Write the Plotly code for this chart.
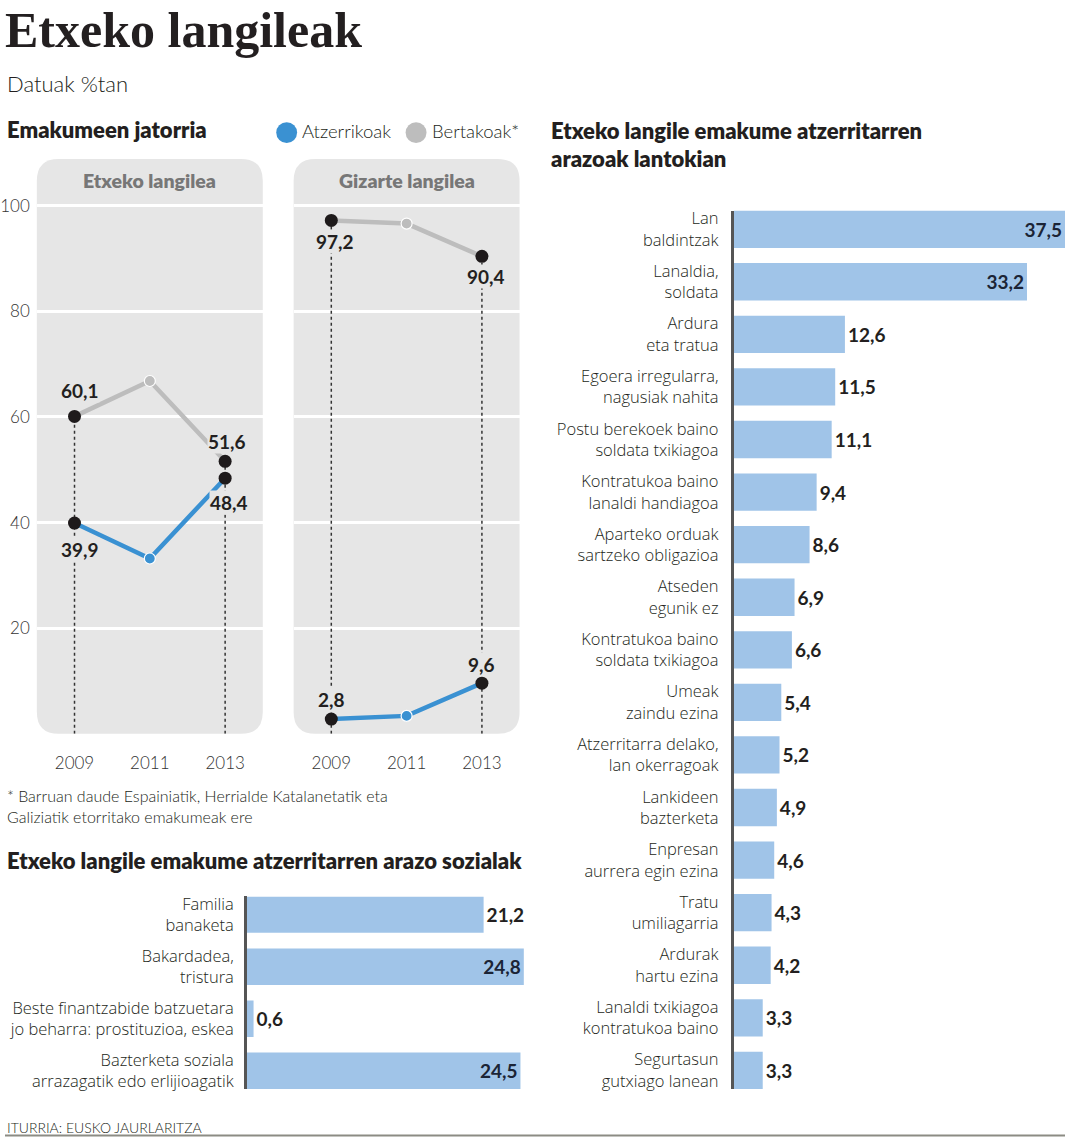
import plotly.graph_objects as go

# ---------------- data ----------------
years = [2009, 2011, 2013]
year_labels = ["2009", "2011", "2013"]
etxeko_atzerrikoak = [39.9, 33.2, 48.4]
etxeko_bertakoak = [60.1, 66.8, 51.6]
gizarte_atzerrikoak = [2.8, 3.4, 9.6]
gizarte_bertakoak = [97.2, 96.6, 90.4]
y_ticks = [20, 40, 60, 80, 100]
series_names = ["Atzerrikoak", "Bertakoak*"]
panel_titles = ["Etxeko langilea", "Gizarte langilea"]

sozial_cats = [
    "Familia<br>banaketa",
    "Bakardadea,<br>tristura",
    "Beste finantzabide batzuetara<br>jo beharra: prostituzioa, eskea",
    "Bazterketa soziala<br>arrazagatik edo erlijioagatik",
]
sozial_vals = [21.2, 24.8, 0.6, 24.5]

lantoki_cats = [
    "Lan<br>baldintzak",
    "Lanaldia,<br>soldata",
    "Ardura<br>eta tratua",
    "Egoera irregularra,<br>nagusiak nahita",
    "Postu berekoek baino<br>soldata txikiagoa",
    "Kontratukoa baino<br>lanaldi handiagoa",
    "Aparteko orduak<br>sartzeko obligazioa",
    "Atseden<br>egunik ez",
    "Kontratukoa baino<br>soldata txikiagoa",
    "Umeak<br>zaindu ezina",
    "Atzerritarra delako,<br>lan okerragoak",
    "Lankideen<br>bazterketa",
    "Enpresan<br>aurrera egin ezina",
    "Tratu<br>umiliagarria",
    "Ardurak<br>hartu ezina",
    "Lanaldi txikiagoa<br>kontratukoa baino",
    "Segurtasun<br>gutxiago lanean",
]
lantoki_vals = [37.5, 33.2, 12.6, 11.5, 11.1, 9.4, 8.6, 6.9, 6.6, 5.4, 5.2, 4.9, 4.6, 4.3, 4.2, 3.3, 3.3]

# ---------------- style ----------------
W, H = 1065, 1140
SANS = "Lato, 'Open Sans', sans-serif"
LABEL_FONT = "'Open Sans', Lato, sans-serif"
SERIF = "'Liberation Serif', 'DejaVu Serif', serif"
DARK = "#1e1a1b"
NAVY = "#1b2436"
BLUE = "#3a91d2"
GREY = "#bdbdbd"
PANEL = "#e6e6e6"
BAR = "#a0c4e8"
AXIS = "#555555"
DOT_Y = -2.0


def fx(px):
    return px / W


def fy(py):
    return 1 - py / H


def fmt(v):
    return f"{v:.1f}".replace(".", ",")


fig = go.Figure()

# ---------------- line panels ----------------
panels = [
    dict(x="x", y="y", atz=etxeko_atzerrikoak, ber=etxeko_bertakoak, px=(32, 259),
         offs={"ber": [(5, 26), (2, 20)], "atz": [(5, -26), (4, -24)]}),
    dict(x="x2", y="y2", atz=gizarte_atzerrikoak, ber=gizarte_bertakoak, px=(290, 517),
         offs={"ber": [(4, -21), (4, -20)], "atz": [(0, 20), (0, 18.5)]}),
]

annotations = []
shapes = []

PANEL_TOP, PANEL_BOT, RAD = 155, 734, 22

for pi, p in enumerate(panels):
    # rounded grey background
    x0, x1 = p["px"]
    y0, y1 = PANEL_TOP, PANEL_BOT
    r = RAD
    path = (
        f"M {fx(x0 + r)},{fy(y0)} L {fx(x1 - r)},{fy(y0)} Q {fx(x1)},{fy(y0)} {fx(x1)},{fy(y0 + r)} "
        f"L {fx(x1)},{fy(y1 - r)} Q {fx(x1)},{fy(y1)} {fx(x1 - r)},{fy(y1)} "
        f"L {fx(x0 + r)},{fy(y1)} Q {fx(x0)},{fy(y1)} {fx(x0)},{fy(y1 - r)} "
        f"L {fx(x0)},{fy(y0 + r)} Q {fx(x0)},{fy(y0)} {fx(x0 + r)},{fy(y0)} Z"
    )
    shapes.append(dict(type="path", path=path, xref="paper", yref="paper",
                       fillcolor=PANEL, line=dict(width=0), layer="below"))
    annotations.append(dict(x=fx((x0 + x1) / 2), y=fy(177), xref="paper", yref="paper",
                            text=panel_titles[pi], showarrow=False, xanchor="center", yanchor="middle",
                            font=dict(family=SANS, size=19.5, color="#777777", weight=800)))

    # dotted drop lines at the labelled years
    for idx in (0, 2):
        top = max(p["atz"][idx], p["ber"][idx])
        fig.add_trace(go.Scatter(x=[years[idx], years[idx]], y=[0, top], mode="lines",
                                 line=dict(color="#333333", width=1.5, dash="dot"),
                                 xaxis=p["x"], yaxis=p["y"], showlegend=False, hoverinfo="skip"))

    # series lines
    for key, color, name in (("ber", GREY, series_names[1]), ("atz", BLUE, series_names[0])):
        vals = p[key]
        fig.add_trace(go.Scatter(
            x=years, y=vals, mode="lines+markers", name=name,
            line=dict(color=color, width=4.5),
            marker=dict(color=[DARK, color, DARK], size=[13, 11, 13], opacity=1,
                        line=dict(color="white", width=[0, 1.2, 0])),
            xaxis=p["x"], yaxis=p["y"], showlegend=False, cliponaxis=False))
        for j, idx in enumerate((0, 2)):
            dx, dy = p["offs"][key][j]
            annotations.append(dict(x=years[idx], y=vals[idx], xref=p["x"], yref=p["y"],
                                    text=fmt(vals[idx]), showarrow=False, xshift=dx, yshift=dy,
                                    bgcolor=PANEL, borderpad=0,
                                    font=dict(family=SANS, size=19, color="#231f20", weight=700)))

    # grey dots above the year labels
    fig.add_trace(go.Scatter(x=years, y=[DOT_Y] * len(years), mode="markers",
                             marker=dict(color="#7f7f7f", size=10),
                             xaxis=p["x"], yaxis=p["y"], showlegend=False, cliponaxis=False,
                             hoverinfo="skip"))

# ---------------- bar charts ----------------
def bar_positions(vals, thr):
    return ["inside" if v >= thr else "outside" for v in vals]


for cats, vals, thr, w, xa, ya in ((sozial_cats, sozial_vals, 22, 0.7, "x3", "y3"),
                                   (lantoki_cats, lantoki_vals, 30, 0.71, "x4", "y4")):
    fig.add_trace(go.Bar(
        y=cats, x=vals, orientation="h", width=w,
        marker=dict(color=BAR, line=dict(width=0)),
        text=[fmt(v) for v in vals], textposition=bar_positions(vals, thr),
        insidetextanchor="end", textangle=0, constraintext="none",
        insidetextfont=dict(family=SANS, size=19, color=NAVY, weight=700),
        outsidetextfont=dict(family=SANS, size=19, color="#231f20", weight=700),
        xaxis=xa, yaxis=ya, showlegend=False, cliponaxis=False))

# ---------------- text ----------------
TXT = "#231f20"


def txt(x, y, text, size, weight=300, color=TXT, family=SANS, xanchor="left"):
    annotations.append(dict(x=fx(x), y=fy(y), xref="paper", yref="paper", text=text,
                            showarrow=False, xanchor=xanchor, yanchor="middle",
                            font=dict(family=family, size=size, color=color, weight=weight)))


txt(-2, 25, "Etxeko langileak", 50, weight=700, family=SERIF)
txt(0, 79, "Datuak %tan", 22)
txt(0, 125, "Emakumeen jatorria", 22, weight=800)
txt(296, 127, series_names[0], 18.5)
txt(427, 127, series_names[1], 18.5)
txt(547, 126, "Etxeko langile emakume atzerritarren", 22, weight=800)
txt(547, 155, "arazoak lantokian", 22, weight=800)
txt(0, 796, "* Barruan daude Espainiatik, Herrialde Katalanetatik eta", 16)
txt(0, 817, "Galiziatik etorritako emakumeak ere", 16)
txt(0, 862, "Etxeko langile emakume atzerritarren arazo sozialak", 22, weight=800)
txt(0, 1130, "ITURRIA: EUSKO JAURLARITZA", 14)

# legend circles
for cx, col in ((283, BLUE), (413, GREY)):
    rr = 10.5
    shapes.append(dict(type="circle", xref="paper", yref="paper",
                       x0=fx(cx - rr), x1=fx(cx + rr), y0=fy(128.5 + rr), y1=fy(128.5 - rr),
                       fillcolor=col, line=dict(width=0)))

# bottom rule
shapes.append(dict(type="line", xref="paper", yref="paper", x0=0, x1=1, y0=fy(1138.5), y1=fy(1138.5),
                   line=dict(color="#8c8c84", width=2)))

# ---------------- axes ----------------
ydom = [fy(PANEL_BOT), fy(PANEL_TOP)]
yrange = [0, (PANEL_BOT - 0.5 - PANEL_TOP) / 5.315]
tickfont = dict(family=SANS, size=17, color="#333333", weight=300)

common_x = dict(range=[2008, 2014], tickvals=years, ticktext=year_labels, showgrid=False,
                zeroline=False, showline=False, ticks="", ticklabelstandoff=17, tickfont=tickfont,
                fixedrange=True)
common_y = dict(domain=ydom, range=yrange, tickvals=y_ticks, showgrid=True, gridcolor="white",
                gridwidth=2.5, zeroline=False, showline=False, ticks="", tickfont=tickfont,
                ticklabelstandoff=6)

bar_ytick = dict(family=LABEL_FONT, size=16.5, color=TXT, weight=300)

fig.update_layout(
    width=W, height=H,
    margin=dict(l=0, r=0, t=0, b=0),
    paper_bgcolor="white", plot_bgcolor="rgba(0,0,0,0)",
    showlegend=False,
    xaxis=dict(domain=[fx(32), fx(259)], anchor="y", **common_x),
    yaxis=dict(anchor="x", **common_y),
    xaxis2=dict(domain=[fx(290), fx(517)], anchor="y2", **common_x),
    yaxis2=dict(anchor="x2", showticklabels=False, **common_y),
    xaxis3=dict(domain=[fx(243), fx(523.5)], range=[0, 25], visible=False, anchor="y3"),
    yaxis3=dict(domain=[fy(1091.7), fy(897.7)], anchor="x3", type="category",
                categoryorder="array", categoryarray=sozial_cats,
                range=[len(sozial_cats) - 1 + 0.35, -0.35],
                showline=True, linecolor=AXIS, linewidth=2.5, showgrid=False, zeroline=False,
                ticks="", ticklabelstandoff=7, tickfont=bar_ytick),
    xaxis4=dict(domain=[fx(732), 1], range=[0, 37.5], visible=False, anchor="y4"),
    yaxis4=dict(domain=[fy(1091.7), fy(207)], anchor="x4", type="category",
                categoryorder="array", categoryarray=lantoki_cats,
                range=[len(lantoki_cats) - 1 + 0.355, -0.355],
                showline=True, linecolor=AXIS, linewidth=2.5, showgrid=False, zeroline=False,
                ticks="", ticklabelstandoff=9, tickfont=bar_ytick),
    annotations=annotations,
    shapes=shapes,
)

fig.write_html("out.html", config={"displayModeBar": False},
               post_script="document.body.style.margin='0px';document.body.style.overflow='hidden';")
